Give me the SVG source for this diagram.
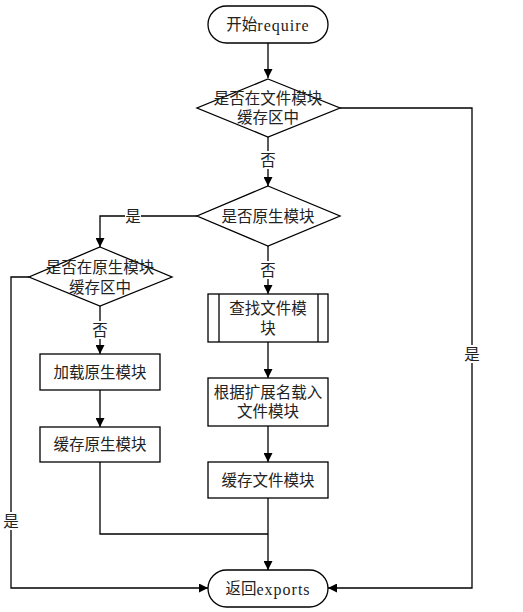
<svg xmlns="http://www.w3.org/2000/svg" width="523" height="612" viewBox="0 0 523 612">
<defs>
<marker id="arr" viewBox="0 0 10 10" refX="10" refY="5" markerWidth="9" markerHeight="9" markerUnits="userSpaceOnUse" orient="auto">
<path d="M0,0 L10,5 L0,10 Z" fill="#000"/>
</marker>
<style>
.s{fill:#fff;stroke:#000;stroke-width:1.3}
.c{fill:none;stroke:#000;stroke-width:1.3}
text{font-family:"Liberation Serif","Noto Sans CJK SC",serif;font-size:15.5px;fill:#222;text-anchor:middle;dominant-baseline:central}
.lat{font-size:16px;letter-spacing:1px}
.lb{fill:#fff}
</style>
</defs>
<rect width="523" height="612" fill="#fff"/>
<g id="connectors">
<path class="c" d="M268,43 V78" marker-end="url(#arr)"/>
<path class="c" d="M268,137 V186" marker-end="url(#arr)"/>
<path class="c" d="M197,216 H100 V247" marker-end="url(#arr)"/>
<path class="c" d="M268,246 V294" marker-end="url(#arr)"/>
<path class="c" d="M100,306 V354" marker-end="url(#arr)"/>
<path class="c" d="M100,390 V427" marker-end="url(#arr)"/>
<path class="c" d="M268,342 V378" marker-end="url(#arr)"/>
<path class="c" d="M268,426 V462" marker-end="url(#arr)"/>
<path class="c" d="M268,498 V570" marker-end="url(#arr)"/>
<path class="c" d="M100,462 V534 H268"/>
<path class="c" d="M29,277 H11 V588 H208" marker-end="url(#arr)"/>
<path class="c" d="M340,108 H472 V588 H328" marker-end="url(#arr)"/>
<rect class="lb" x="260" y="151" width="16" height="18"/>
<text x="268" y="160">否</text>
<rect class="lb" x="125" y="207" width="16" height="18"/>
<text x="133" y="216">是</text>
<rect class="lb" x="260" y="261" width="16" height="18"/>
<text x="268" y="270">否</text>
<rect class="lb" x="92" y="321" width="16" height="18"/>
<text x="100" y="330">否</text>
<rect class="lb" x="3" y="512" width="16" height="18"/>
<text x="11" y="521">是</text>
<rect class="lb" x="464" y="345" width="16" height="18"/>
<text x="472" y="354">是</text>
</g>
<g id="start">
<rect class="s" x="208" y="6" width="120" height="37" rx="18.5"/>
<text x="268" y="24.5">开始<tspan class="lat">require</tspan></text>
</g>
<g id="d1">
<polygon class="s" points="268,79 340,108 268,137 197,108"/>
<text x="268" y="98">是否在文件模块</text>
<text x="268" y="117">缓存区中</text>
</g>
<g id="d2">
<polygon class="s" points="268,186 340,216 268,246 197,216"/>
<text x="268" y="216">是否原生模块</text>
</g>
<g id="d3">
<polygon class="s" points="100,247 172,277 100,306 29,277"/>
<text x="100" y="267">是否在原生模块</text>
<text x="100" y="287">缓存区中</text>
</g>
<g id="find">
<rect class="s" x="208" y="294" width="120" height="48"/>
<path class="c" d="M219,294 V342 M318,294 V342"/>
<text x="268" y="308">查找文件模</text>
<text x="268" y="328">块</text>
</g>
<g id="loadNative">
<rect class="s" x="40" y="354" width="120" height="36"/>
<text x="100" y="372">加载原生模块</text>
</g>
<g id="cacheNative">
<rect class="s" x="40" y="427" width="120" height="35"/>
<text x="100" y="444.5">缓存原生模块</text>
</g>
<g id="loadFile">
<rect class="s" x="208" y="378" width="120" height="48"/>
<text x="268" y="392">根据扩展名载入</text>
<text x="268" y="411">文件模块</text>
</g>
<g id="cacheFile">
<rect class="s" x="208" y="462" width="120" height="36"/>
<text x="268" y="480">缓存文件模块</text>
</g>
<g id="end">
<rect class="s" x="208" y="570" width="120" height="37" rx="18.5"/>
<text x="268" y="588.5">返回<tspan class="lat">exports</tspan></text>
</g>
</svg>
